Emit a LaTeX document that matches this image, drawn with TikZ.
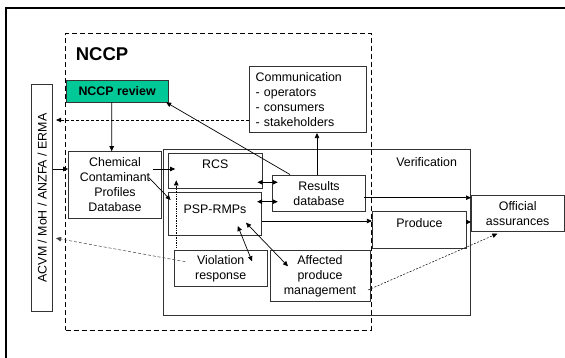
\documentclass[tikz,border=0pt]{standalone}
\usepackage{fontspec}
\setmainfont{Liberation Sans}
\usepackage{graphicx}
\usetikzlibrary{calc,arrows.meta}
\definecolor{reviewgreen}{RGB}{0,200,150}

\begin{document}
\begin{tikzpicture}[x=1pt, y=-1pt,
          font=\fontsize{12.4}{15}\selectfont,
          box/.style = {draw=black!80, line width=.8pt, inner sep=0pt, align=center},
          raised/.style = {text height=9pt, text depth=#1},
          arr/.style = {line width=.7pt, -{Triangle[length=5pt,width=4.5pt]}},
          darr/.style = {line width=.7pt, {Triangle[length=5pt,width=4.5pt]}-{Triangle[length=5pt,width=4.5pt]}},
          dedge/.style = {line width=.7pt, dash pattern=on 3pt off 2pt, -{Triangle[length=5pt,width=4.5pt]}, shorten >=3pt},
          ledge/.style = {line width=.5pt, black!75, dash pattern=on 3pt off 2pt, -{Triangle[length=5pt,width=4.5pt]}, shorten >=3pt},
          fedge/.style = {line width=.5pt, dash pattern=on 2pt off 1.5pt, -{Triangle[length=5pt,width=4.5pt]}},
          oedge/.style = {line width=.7pt, densely dotted, -{Triangle[length=5pt,width=4.5pt]}}]
        \useasboundingbox (0,0) rectangle (565,358);
        \draw[line width=1.2pt] (565,8) -- (6,8) -- (6,358);
        % frames
        \node[box, draw=black, line width=1pt, dash pattern=on 5pt off 3pt, minimum width=305.4pt, minimum height=296.7pt] (nccp) at (218.3,181.7) {};
        \node[font=\fontsize{18.5}{20}\selectfont\bfseries] (title) at (102,54.3) {NCCP};
        \node[box, minimum width=306.8pt, minimum height=166pt] (verif) at (316.6,232) {};
        \node (verlbl) at (426.6,161.7) {Verification};
        % boxes
        \node[box, fill=reviewgreen, minimum width=102.3pt, minimum height=21.3pt, font=\fontsize{12.4}{15}\selectfont\bfseries] (review) at (117.1,91.3) {NCCP review};
        \node[box, minimum width=21pt, minimum height=227pt] (acvm) at (42.2,198) {\rotatebox{90}{ACVM / MoH / ANZFA / ERMA}};
        \node[box, minimum height=66.7pt, inner xsep=6pt, text width=104.8pt, align=left] (comm) at (308.1,99.3) {Communication\\- operators\\- consumers\\- stakeholders};
        \node[box, minimum width=93pt, minimum height=66.7pt] (ccpd) at (115,185) {Chemical\\Contaminant\\Profiles\\Database};
        \node[box, raised=13pt, minimum width=93.7pt, minimum height=35pt] (rcs) at (215.2,170.8) {RCS};
        \node[box, raised=9.2pt, minimum width=93.4pt, minimum height=42.3pt] (psp) at (215,213.9) {PSP-RMPs};
        \node[box, minimum width=93.7pt, minimum height=36.7pt] (results) at (319,193.3) {Results\\database};
        \node[box, raised=14.6pt, minimum width=94.4pt, minimum height=36.6pt] (produce) at (419.5,230) {Produce};
        \node[box, minimum width=92.6pt, minimum height=36pt] (official) at (517.7,213.7) {Official\\assurances};
        \node[box, minimum width=93.3pt, minimum height=36.7pt] (viol) at (220.7,268.3) {Violation\\response};
        \node[box, minimum width=100pt, minimum height=51.7pt] (affected) at (320,275.8) {Affected\\produce\\management};
        % connectors
        \draw[arr] ($(review.south)+(-5.4,0)$) -- ($(ccpd.north)+(-3.3,0)$);
        \draw[arr] ($(results.north)+(-29,0)$) -- ($(review.south east)+(-2.5,0)$);
        \draw[arr] ($(results.north)+(-2,0)$) -- ($(comm.south)+(8.9,0)$);
        \draw[dedge] ($(comm.west)+(0,20.7)$) -- ($(acvm.east)+(0,-78)$);
        \draw[arr] ($(acvm.east)+(0,-29)$) -- ($(ccpd.west)+(0,-16)$);
        \draw[arr] ($(ccpd.east)+(-9.4,-16)$) -- ($(rcs.west)+(7.2,-1.8)$);
        \draw[arr] ($(ccpd.east)+(-13,-7.3)$) -- ($(psp.west)+(2.7,-13.9)$);
        \foreach \n/\a/\b in {rcs/11.5/-11, psp/-12.2/8.4}
                 {
                   \draw[darr] ($(\n.east)+(-5,\a)$) -- ($(results.west)+(6,\b)$);
                 }
        \draw[arr] ($(psp.east)+(0,7.1)$) -- ($(produce.west)+(0,-9)$);
        \draw[arr] ($(results.east)+(-2,4.4)$) -- ($(official.west)+(0,-16)$);
        \draw[arr] ($(produce.east)+(0,-8)$) -- ($(official.west)+(0,8.3)$);
        \draw[darr] ($(psp.center)+(22.8,12.1)$) -- ($(viol.north)+(31.3,11.7)$);
        \draw[darr] ($(psp.center)+(31,8.8)$) -- ($(affected.north)+(-32,16.7)$);
        \draw[oedge] ($(viol.north west)+(2.6,-2)$) -- ($(rcs.south west)+(8.3,-8.3)$);
        \draw[ledge] ($(viol.west)+(11.6,-6.6)$) -- ($(acvm.east)+(0,39.7)$);
        \draw[fedge] ($(affected.east)+(-2.4,14.2)$) -- ($(official.south)+(-20.4,1.6)$);
      \end{tikzpicture}
\end{document}
